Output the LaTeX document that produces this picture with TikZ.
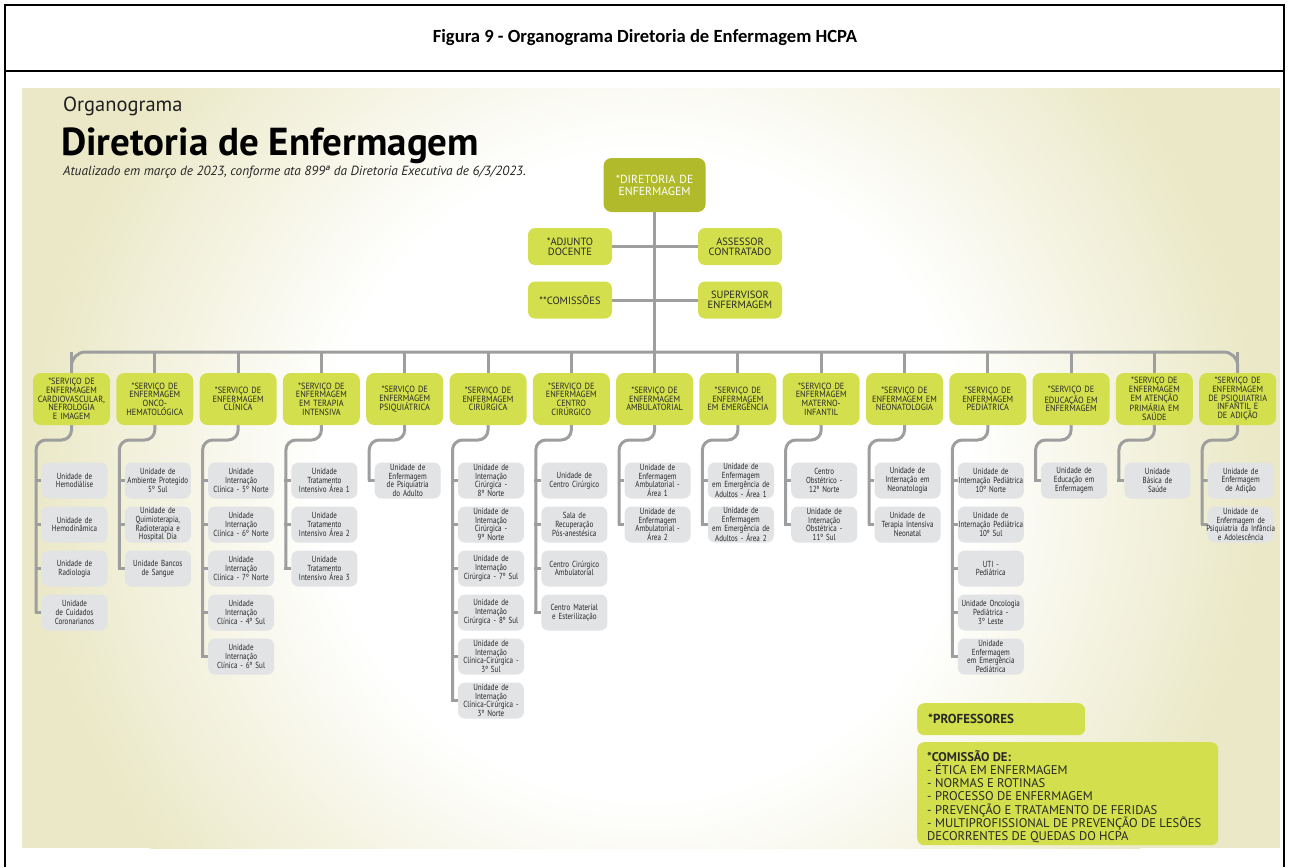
\documentclass[tikz,border=0pt]{standalone}
\usepackage{fontspec}
\setmainfont{PT Sans}
\newfontfamily\capfont{Carlito}
\newfontfamily\condfont[FakeStretch=0.92]{PT Sans}
\newfontfamily\narrowfont[FakeStretch=0.80]{PT Sans}
\usetikzlibrary{calc}

\definecolor{cream}{RGB}{234,232,198}
\definecolor{olive}{RGB}{176,186,42}
\definecolor{lime}{RGB}{211,223,76}
\definecolor{unitgray}{RGB}{225,227,229}
\definecolor{wiregray}{RGB}{158,158,158}
\definecolor{ink}{RGB}{40,40,40}

% white centre fading to cream; the path's extent maps to 25bp
\pgfdeclareradialshading{glow}{\pgfpoint{0bp}{0bp}}{color(0bp)=(white); color(13bp)=(white); color(25bp)=(cream); color(50bp)=(cream)}
\pgfdeclarelayer{bg}
\pgfdeclarelayer{wires}
\pgfsetlayers{bg,wires,main}

\tikzset{
  svc/.style={fill=lime, rounded corners=8pt, minimum width=77pt, minimum height=52pt,
    text width=75pt, align=center, inner xsep=1pt, inner ysep=0pt, text=ink,
    font=\condfont\fontsize{9}{8.7}\selectfont},
  unit/.style={fill=unitgray, rounded corners=7pt, minimum width=66pt, minimum height=36pt,
    text width=69pt, align=center, inner xsep=-1.5pt, inner ysep=0pt, text=ink,
    font=\narrowfont\fontsize{8.8}{8.7}\selectfont},
  aux/.style={fill=lime, rounded corners=7pt, minimum width=84pt, minimum height=37pt,
    text width=82pt, align=center, inner sep=1pt, text=ink,
    font=\fontsize{10.5}{10}\selectfont},
  chief/.style={fill=olive, rounded corners=8pt, minimum width=102pt, minimum height=54pt,
    text width=100pt, align=center, inner sep=1pt, text=white,
    font=\fontsize{11.7}{12}\selectfont},
  note/.style={fill=lime, rounded corners=7pt, anchor=north west, inner sep=0pt},
  wire/.style={draw=wiregray, line width=3pt},
}

% one service box with its stack of units and the connectors between them
\newcommand\orgcolumn[4]{%
  \node[svc] (#1) at (#2,399) {#3};
  \foreach \txt [count=\k from 0] in {#4} {
    \node[unit] (#1-\k) at (#2+3,480.5+44*\k) {\txt};
    \xdef\lastk{\k}
  }
  \begin{pgfonlayer}{wires}
    \draw[wire] (#1.north) -- (#1.north |- bus);
    \coordinate (#1-sp) at (#2-35.5,440);
    \draw[wire, rounded corners=10pt] (#1.south) -- (#1.south |- #1-sp) -- (#1-sp) -- (#1-sp |- #1-\lastk.west);
    \foreach \k in {0,...,\lastk} {
      \draw[wire] (#1-\k.west) -- ([xshift=-1.5pt]#1-\k.west -| #1-sp);
    }
  \end{pgfonlayer}
}

\begin{document}
\begin{tikzpicture}[x=1pt, y=-1pt]
\useasboundingbox (0,0) rectangle (1289,867);

% chart backdrop with a soft central glow
\begin{pgfonlayer}{bg}
  \fill[white] (0,0) rectangle (1289,867);
  \fill[cream] (22,88) rectangle (1280,848);
  \begin{scope}
    \clip (22,88) rectangle (1280,848);
    \shade[shading=glow] (645,475) circle[radius=620];
  \end{scope}
\end{pgfonlayer}

% page frame and caption row
\draw[line width=2pt] (5,867) -- (5,5) -- (1284,5) -- (1284,867);
\draw[line width=2pt] (5,71) -- (1284,71);
\node[font=\capfont\bfseries\fontsize{18.6}{20}\selectfont] (caption) at (645,38)
  {Figura 9 - Organograma Diretoria de Enfermagem HCPA};

% heading
\node[anchor=west, inner sep=0pt, font=\fontsize{20.5}{24}\selectfont, text=black!88] (h1) at (63,106) {Organograma};
\node[anchor=west, inner sep=0pt, font=\bfseries\fontsize{39}{42}\selectfont, text=black] (h2) at (61,146) {Diretoria de Enfermagem};
\node[anchor=west, inner sep=0pt, font=\itshape\fontsize{13.3}{15}\selectfont, text=black!85] (h3) at (63,172)
  {Atualizado em março de 2023, conforme ata 899ª da Diretoria Executiva de 6/3/2023.};

% top of the hierarchy
\node[chief] (dir) at (654.6,185) {*DIRETORIA DE\\ENFERMAGEM};
\node[aux] (adj) at (570,246.5) {*ADJUNTO\\DOCENTE};
\node[aux] (ass) at (740,246.5) {ASSESSOR\\CONTRATADO};
\node[aux] (com) at (570,300) {**COMISSÕES};
\node[aux] (sup) at (740,300) {SUPERVISOR\\ENFERMAGEM};
\coordinate (bus) at (654.6,352);

\begin{pgfonlayer}{wires}
  \draw[wire] (dir.south) -- (bus);
  \draw[wire] (adj.east) -- (ass.west);
  \draw[wire] (com.east) -- (sup.west);
\end{pgfonlayer}

% services and units
\orgcolumn{s1}{71.5}{*SERVIÇO DE\\ENFERMAGEM\\CARDIOVASCULAR,\\NEFROLOGIA\\E IMAGEM}
  {{Unidade de\\Hemodiálise},{Unidade de\\Hemodinâmica},{Unidade de\\Radiologia},{Unidade\\de Cuidados\\Coronarianos}}
\orgcolumn{s2}{154.8}{*SERVIÇO DE\\ENFERMAGEM\\ONCO-\\HEMATOLÓGICA}
  {{Unidade de\\Ambiente Protegido\\5º Sul},{Unidade de\\Quimioterapia,\\Radioterapia e\\Hospital Dia},{Unidade Bancos\\de Sangue}}
\orgcolumn{s3}{238.1}{*SERVIÇO DE\\ENFERMAGEM\\CLÍNICA}
  {{Unidade\\Internação\\Clínica - 5º Norte},{Unidade\\Internação\\Clínica - 6º Norte},{Unidade\\Internação\\Clínica - 7º Norte},{Unidade\\Internação\\Clínica - 4º Sul},{Unidade\\Internação\\Clínica - 6º Sul}}
\orgcolumn{s4}{321.4}{*SERVIÇO DE\\ENFERMAGEM\\EM TERAPIA\\INTENSIVA}
  {{Unidade\\Tratamento\\Intensivo Área 1},{Unidade\\Tratamento\\Intensivo Área 2},{Unidade\\Tratamento\\Intensivo Área 3}}
\orgcolumn{s5}{404.7}{*SERVIÇO DE\\ENFERMAGEM\\PSIQUIÁTRICA}
  {{Unidade de\\Enfermagem\\de Psiquiatria\\do Adulto}}
\orgcolumn{s6}{488.0}{*SERVIÇO DE\\ENFERMAGEM\\CIRÚRGICA}
  {{Unidade de\\Internação\\Cirúrgica -\\8º Norte},{Unidade de\\Internação\\Cirúrgica -\\9º Norte},{Unidade de\\Internação\\Cirúrgica - 7º Sul},{Unidade de\\Internação\\Cirúrgica - 8º Sul},{Unidade de\\Internação\\Clínica-Cirúrgica -\\3º Sul},{Unidade de\\Internação\\Clínica-Cirúrgica -\\3º Norte}}
\orgcolumn{s7}{571.3}{*SERVIÇO DE\\ENFERMAGEM\\CENTRO\\CIRÚRGICO}
  {{Unidade de\\Centro Cirúrgico},{Sala de\\Recuperação\\Pós-anestésica},{Centro Cirúrgico\\Ambulatorial},{Centro Material\\e Esterilização}}
\orgcolumn{s8}{654.6}{*SERVIÇO DE\\ENFERMAGEM\\AMBULATORIAL}
  {{Unidade de\\Enfermagem\\Ambulatorial -\\Área 1},{Unidade de\\Enfermagem\\Ambulatorial -\\Área 2}}
\orgcolumn{s9}{737.9}{*SERVIÇO DE\\ENFERMAGEM\\EM EMERGÊNCIA}
  {{Unidade de\\Enfermagem\\em Emergência de\\Adultos - Área 1},{Unidade de\\Enfermagem\\em Emergência de\\Adultos - Área 2}}
\orgcolumn{s10}{821.2}{*SERVIÇO DE\\ENFERMAGEM\\MATERNO-\\INFANTIL}
  {{Centro\\Obstétrico -\\12º Norte},{Unidade de\\Internação\\Obstétrica -\\11º Sul}}
\orgcolumn{s11}{904.5}{*SERVIÇO DE\\ENFERMAGEM EM\\NEONATOLOGIA}
  {{Unidade de\\Internação em\\Neonatologia},{Unidade de\\Terapia Intensiva\\Neonatal}}
\orgcolumn{s12}{987.8}{*SERVIÇO DE\\ENFERMAGEM\\PEDIÁTRICA}
  {{Unidade de\\Internação Pediátrica\\10º Norte},{Unidade de\\Internação Pediátrica\\10º Sul},{UTI -\\Pediátrica},{Unidade Oncologia\\Pediátrica -\\3º Leste},{Unidade\\Enfermagem\\em Emergência\\Pediátrica}}
\orgcolumn{s13}{1071.1}{*SERVIÇO DE\\EDUCAÇÃO EM\\ENFERMAGEM}
  {{Unidade de\\Educação em\\Enfermagem}}
\orgcolumn{s14}{1154.4}{*SERVIÇO DE\\ENFERMAGEM\\EM ATENÇÃO\\PRIMÁRIA EM\\SAÚDE}
  {{Unidade\\Básica de\\Saúde}}
\orgcolumn{s15}{1237.7}{*SERVIÇO DE\\ENFERMAGEM\\DE PSIQUIATRIA\\INFANTIL E\\DE ADIÇÃO}
  {{Unidade de\\Enfermagem\\de Adição},{Unidade de\\Enfermagem de\\Psiquiatria da Infância\\e Adolescência}}

% horizontal bus linking all services
\begin{pgfonlayer}{wires}
  \draw[wire, rounded corners=14pt] (s1.north) -- (s1.north |- bus) -- (s15.north |- bus) -- (s15.north);
\end{pgfonlayer}

% notes
\node[note, minimum width=168pt, minimum height=32pt] (prof) at (917,703) {};
\node[anchor=west, inner sep=0pt, font=\bfseries\fontsize{13}{15}\selectfont, text=ink] (proft) at ([xshift=11pt]prof.west) {*PROFESSORES};
\node[note, minimum width=301pt, minimum height=103pt] (comm) at (917,742) {};
\node[anchor=north west, inner sep=0pt, align=left, text=ink, font=\fontsize{12.6}{13.3}\selectfont] (commt) at (927,750)
  {\textbf{*COMISSÃO DE:}\\
   - ÉTICA EM ENFERMAGEM\\
   - NORMAS E ROTINAS\\
   - PROCESSO DE ENFERMAGEM\\
   - PREVENÇÃO E TRATAMENTO DE FERIDAS\\
   - MULTIPROFISSIONAL DE PREVENÇÃO DE LESÕES\\
   DECORRENTES DE QUEDAS DO HCPA};
\end{tikzpicture}
\end{document}
